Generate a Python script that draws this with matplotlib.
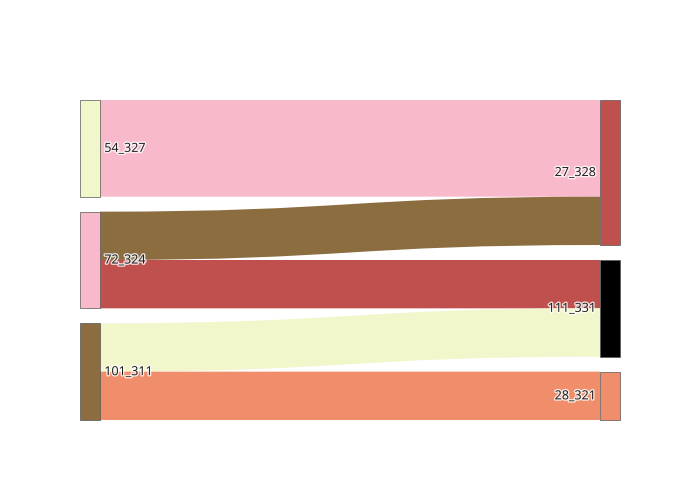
import numpy as np
import matplotlib.pyplot as plt
from matplotlib.path import Path
from matplotlib.patches import PathPatch, Rectangle
import matplotlib.patheffects as pe

## data
left_nodes = ['54_327', '72_324', '101_311']
right_nodes = ['27_328', '111_331', '28_321']
left_colors = ['#f2f6cb', '#f8b9cb', '#8b6d40']
right_colors = ['#c0504d', '#000000', '#f08e6c']
link_src = ['54_327', '72_324', '72_324', '101_311', '101_311']
link_tgt = ['27_328', '27_328', '111_331', '111_331', '28_321']
link_val = [2, 1, 1, 1, 1]
link_colors = ['#f8b9cb', '#8b6d40', '#c0504d', '#f2f6cb', '#f08e6c']

gap = 0.31
node_w = 20.0 / 540

fig = plt.figure(figsize=(7, 5), dpi=100)
ax = fig.add_axes([80 / 700, (500 - 420) / 500, 540 / 700, 320 / 500])

def layout(nodes, side):
    tot = {n: 0 for n in nodes}
    for s, t, v in zip(link_src, link_tgt, link_val):
        tot[s if side == 0 else t] += v
    pos, y = {}, 0.0
    for n in nodes:
        pos[n] = (y, tot[n])
        y += tot[n] + gap
    return pos

lpos = layout(left_nodes, 0)
rpos = layout(right_nodes, 1)
loff = {n: lpos[n][0] for n in left_nodes}
roff = {n: rpos[n][0] for n in right_nodes}

x0, x1 = node_w, 1 - node_w
xm = (x0 + x1) / 2
for s, t, v, c in zip(link_src, link_tgt, link_val, link_colors):
    ys, yt = loff[s], roff[t]
    loff[s] += v
    roff[t] += v
    verts = [(x0, ys), (xm, ys), (xm, yt), (x1, yt),
             (x1, yt + v), (xm, yt + v), (xm, ys + v), (x0, ys + v), (x0, ys)]
    codes = [Path.MOVETO, Path.CURVE4, Path.CURVE4, Path.CURVE4,
             Path.LINETO, Path.CURVE4, Path.CURVE4, Path.CURVE4, Path.CLOSEPOLY]
    ax.add_patch(PathPatch(Path(verts, codes), fc=c, ec='none', lw=0))

shadow = [pe.withStroke(linewidth=2, foreground='white', alpha=0.8)]
for n, c in zip(left_nodes, left_colors):
    y, h = lpos[n]
    ax.add_patch(Rectangle((0, y), node_w, h, fc=c, ec='#555555', lw=0.5, clip_on=False))
    ax.text(node_w + 0.008, y + h / 2, n, ha='left', va='center', fontsize=9,
            family='Open Sans', color='#1a1a1a', path_effects=shadow)
for n, c in zip(right_nodes, right_colors):
    y, h = rpos[n]
    ax.add_patch(Rectangle((1 - node_w, y), node_w, h, fc=c, ec='#555555', lw=0.5, clip_on=False))
    ax.text(1 - node_w - 0.008, y + h / 2, n, ha='right', va='center', fontsize=9,
            family='Open Sans', color='#1a1a1a', path_effects=shadow)

ax.set_xlim(0, 1)
ax.set_ylim(6 + 2 * gap, 0)
ax.axis('off')
plt.savefig('out.png', dpi=100)
